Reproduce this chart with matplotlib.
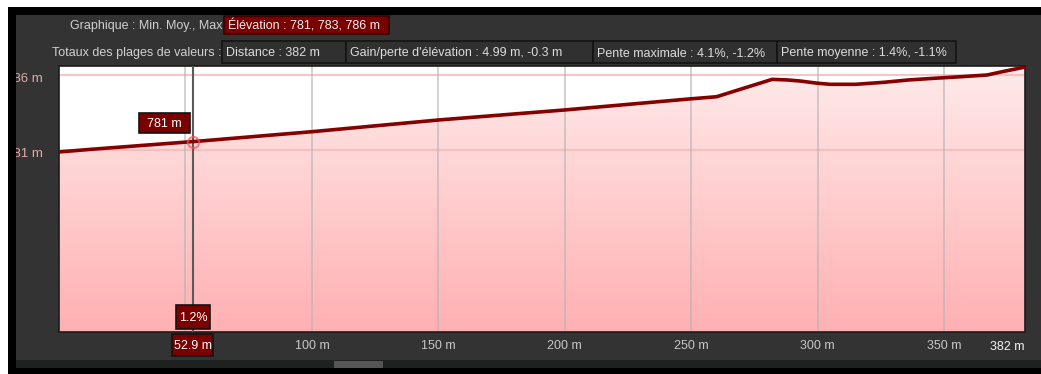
import numpy as np
import matplotlib
matplotlib.use("Agg")
from matplotlib import pyplot as plt
from matplotlib.patches import Rectangle, Polygon
from matplotlib.transforms import Bbox, TransformedBbox

W, H = 1041, 374
plt.rcParams['font.family'] = ['Liberation Sans', 'DejaVu Sans']
FS = 9

# elevation profile (distance in m, elevation in m)
dist = [0, 13, 52, 56, 100, 150, 200, 237, 249, 260, 282, 288, 293, 300,
        305, 315, 326, 336, 346, 357, 367, 373, 382]
elev = [780.87, 781.05, 781.55, 781.6, 782.22, 783.0, 783.67, 784.22, 784.4,
        784.55, 785.71, 785.67, 785.6, 785.45, 785.38, 785.38, 785.51, 785.67,
        785.78, 785.89, 786.0, 786.22, 786.53]

x_ticks = [100, 150, 200, 250, 300, 350]
x_tick_labels = ["100 m", "150 m", "200 m", "250 m", "300 m", "350 m"]
x_grid = [50, 100, 150, 200, 250, 300, 350]
y_ticks = [781, 786]
y_tick_labels = ["781 m", "786 m"]
x_end_label = "382 m"

cursor_dist = 52.9
cursor_label = "52.9 m"
cursor_elev_label = "781 m"
cursor_slope_label = "1.2%"

header_title = "Graphique : Min. Moy., Max"
header_value = "Élévation : 781, 783, 786 m"
totals_title = "Totaux des plages de valeurs :"
totals = [
    "Distance : 382 m",
    "Gain/perte d'élévation : 4.99 m, -0.3 m",
    "Pente maximale : 4.1%, -1.2%",
    "Pente moyenne : 1.4%, -1.1%",
]
totals_edges = [222, 346, 593, 777, 956]


def fx(x):
    return x / W


def fy(y):
    return 1 - y / H


def rect(fig, x0, y0, x1, y1, fc, ec="none", lw=0, z=-5):
    r = Rectangle((fx(x0), fy(y1)), fx(x1) - fx(x0), fy(y0) - fy(y1),
                  transform=fig.transFigure, facecolor=fc, edgecolor=ec,
                  linewidth=lw, zorder=z)
    fig.patches.append(r)
    return r


def box(fig, x0, y0, x1, y1, text, fc, ec="#141414", ha="left", color="#dcdcdc", z=12):
    rect(fig, x0, y0, x1, y1, fc, ec, 1.2, z)
    tx = x0 + 4 if ha == "left" else (x0 + x1) / 2
    fig.text(fx(tx), fy((y0 + y1) / 2 + 1), text, ha=ha, va="center",
             fontsize=FS, color=color, zorder=z + 1)


fig = plt.figure(figsize=(W / 100, H / 100), dpi=100, facecolor="white")

# window frame
rect(fig, 8, 7, W, H, "#000000", z=-10)
rect(fig, 16, 15, W, 360, "#333333", z=-9)
rect(fig, 16, 360, W, 368, "#1d211f", z=-9)
rect(fig, 334, 361, 383, 368, "#555555", z=-8)

# plot area
ax = fig.add_axes([fx(59), fy(332), fx(1025) - fx(59), fy(66) - fy(332)])
ylo = 786 - (332 - 75) / 15
yhi = 786 + (75 - 66) / 15
ax.set_xlim(0, 382)
ax.set_ylim(ylo, yhi)
ax.set_facecolor("white")

grad = np.linspace(0, 1, 256).reshape(-1, 1)
top_c = np.array([255, 234, 234]) / 255
bot_c = np.array([255, 176, 178]) / 255
img = top_c * (1 - grad[..., None]) + bot_c * grad[..., None]
im = ax.imshow(img, extent=[0, 382, ylo, yhi], origin="upper", aspect="auto", zorder=1)
poly = Polygon(np.column_stack([[0] + dist + [382], [ylo] + elev + [ylo]]),
               closed=True, transform=ax.transData, facecolor="none", edgecolor="none")
ax.add_patch(poly)
im.set_clip_path(poly)

for yv in y_ticks:
    ax.axhline(yv, color="#f4b8b8", lw=1.5, alpha=0.8, zorder=2)
for xv in x_grid:
    ax.axvline(xv, color="#b4b4b4", lw=1.2, alpha=0.7, zorder=2)

ax.plot(dist, elev, color="#870000", lw=2.6, zorder=4, solid_capstyle="butt")

# cursor
cursor_elev = np.interp(cursor_dist, dist, elev)
ax.axvline(cursor_dist, color="#5a5a5a", lw=1.5, zorder=3)
ax.plot([cursor_dist], [cursor_elev], "o", ms=8, mfc="none", mec="#ff4a4a",
        mew=1.5, alpha=0.7, zorder=5)

ax.set_xticks(x_ticks)
ax.set_xticklabels(x_tick_labels, fontsize=FS, color="#c8c8c8")
ax.tick_params(axis="x", length=0, pad=6)
ax.set_yticks([])
for s in ax.spines.values():
    s.set_color("#1c1c1c")
    s.set_linewidth(1.2)

# y labels, clipped by the window frame on the left
clip = TransformedBbox(Bbox.from_extents(fx(16), 0, 1, 1), fig.transFigure)
for yv, lab in zip(y_ticks, y_tick_labels):
    t = ax.annotate(lab, xy=(0, yv), xycoords=ax.get_yaxis_transform(),
                    xytext=(-16, -4), textcoords="offset pixels",
                    ha="right", va="center", fontsize=FS + 0.5, color="#e2a8a8",
                    annotation_clip=False)
    t.set_clip_box(clip)
    t.set_clip_on(True)

ax.annotate(x_end_label, xy=(382, 0), xycoords=ax.get_xaxis_transform(),
            xytext=(-1, -15), textcoords="offset pixels", ha="right", va="center",
            fontsize=FS, color="#f4f4f4", annotation_clip=False)

# left/top frame
rect(fig, 8, 7, 16, H, "#000000", z=10)
rect(fig, 8, 7, W, 15, "#000000", z=10)

# header
fig.text(fx(222), fy(26), header_title, ha="right", va="center",
         fontsize=FS, color="#d0d0d0")
box(fig, 224, 16, 389, 34, header_value, "#7a0000", ec="#3a0000", color="#eeeeee")
fig.text(fx(221), fy(53), totals_title, ha="right", va="center",
         fontsize=FS, color="#d0d0d0")
for i, t in enumerate(totals):
    box(fig, totals_edges[i], 41, totals_edges[i + 1], 63, t, "#303030")

# cursor boxes
box(fig, 139, 113, 190, 133, cursor_elev_label, "#7a0000", ha="center", color="white")
box(fig, 176, 305, 210, 329, cursor_slope_label, "#7a0000", ha="center", color="white")
box(fig, 172, 334, 213, 356, cursor_label, "#7a0000", ha="center", color="white")

fig.savefig("out.png", dpi=100, facecolor="white")
